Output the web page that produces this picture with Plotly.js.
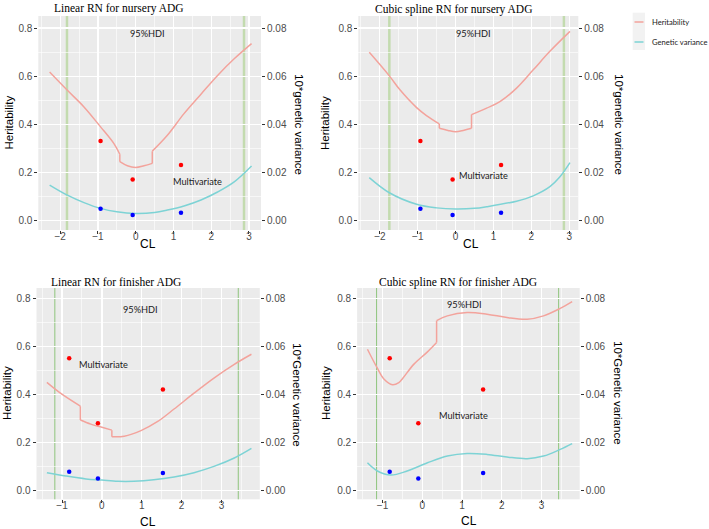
<!DOCTYPE html>
<html><head><meta charset="utf-8">
<script src="https://cdn.plot.ly/plotly-3.0.1.min.js"></script>
<style>html,body{margin:0;padding:0;background:#fff}#chart{width:709px;height:529px}</style>
</head><body><div id="chart"></div>
<script>
// ---------- DATA ----------
const panelTitles = ["Linear RN for nursery ADG", "Cubic spline RN for nursery ADG", "Linear RN for finisher ADG", "Cubic spline RN for finisher ADG"];
const rightTitles = ["10*genetic variance", "10*genetic variance", "10*Genetic variance", "10*Genetic variance"];
const legendLabels = ["Heritability", "Genetic variance"];

// Heritability curves (CL, h2); repeated CL values mark the vertical steps
const clH1 = [-2.28, -1.81, -1.37, -0.93, -0.58, -0.42, -0.42, -0.22, 0, 0.22, 0.44, 0.44, 0.84, 1.28, 1.73, 2.17, 2.61, 3.07];
const herit1 = [0.617, 0.541, 0.472, 0.389, 0.320, 0.275, 0.244, 0.227, 0.220, 0.227, 0.237, 0.288, 0.354, 0.444, 0.525, 0.603, 0.672, 0.735];
const clH2 = [-2.28, -1.75, -1.47, -1.03, -0.77, -0.43, -0.43, -0.2, 0, 0.2, 0.42, 0.42, 0.82, 1.17, 1.61, 2.05, 2.49, 3.02];
const herit2 = [0.699, 0.601, 0.543, 0.469, 0.436, 0.401, 0.383, 0.374, 0.369, 0.374, 0.383, 0.440, 0.467, 0.494, 0.550, 0.626, 0.703, 0.786];
const clH3 = [-1.38, -1.03, -0.54, -0.54, -0.28, 0, 0.25, 0.25, 0.56, 0.98, 1.39, 1.81, 2.31, 2.81, 3.32, 3.75];
const herit3 = [0.450, 0.404, 0.351, 0.293, 0.276, 0.263, 0.251, 0.224, 0.226, 0.249, 0.286, 0.339, 0.405, 0.468, 0.525, 0.567];
const clH4 = [-1.38, -1.13, -0.96, -0.75, -0.59, -0.49, -0.21, 0.13, 0.36, 0.36, 0.63, 1.13, 1.63, 2.13, 2.64, 3.05, 3.47, 3.77];
const herit4 = [0.588, 0.509, 0.463, 0.440, 0.449, 0.467, 0.526, 0.577, 0.616, 0.707, 0.727, 0.741, 0.734, 0.720, 0.713, 0.727, 0.758, 0.786];

// Genetic variance curves (CL, variance on right axis)
const clG1 = [-2.28, -1.81, -1.37, -0.93, -0.5, 0, 0.5, 0.84, 1.28, 1.73, 2.17, 2.61, 3.07];
const gvar1 = [0.0147, 0.0105, 0.0074, 0.0050, 0.0036, 0.0029, 0.0033, 0.0043, 0.0060, 0.0085, 0.0118, 0.0160, 0.0226];
const clG2 = [-2.28, -1.75, -1.03, -0.5, 0, 0.5, 0.82, 1.61, 2.05, 2.49, 2.75, 3.02];
const gvar2 = [0.0178, 0.0115, 0.0067, 0.0052, 0.0047, 0.0050, 0.0057, 0.0080, 0.0102, 0.0140, 0.0180, 0.0240];
const clG3 = [-1.38, -0.9, -0.4, 0, 0.4, 0.8, 1.3, 1.81, 2.31, 2.81, 3.32, 3.75];
const gvar3 = [0.0074, 0.0060, 0.0048, 0.0043, 0.0038, 0.0038, 0.0044, 0.0056, 0.0074, 0.0100, 0.0135, 0.0175];
const clG4 = [-1.38, -1.13, -0.79, -0.38, 0.13, 0.63, 1.13, 1.63, 2.13, 2.64, 3.05, 3.47, 3.77];
const gvar4 = [0.0115, 0.0081, 0.0064, 0.0081, 0.0115, 0.0143, 0.0154, 0.0150, 0.0139, 0.0132, 0.0143, 0.0171, 0.0195];

// Multivariate estimates (points)
const clPtsNursery = [-0.93, -0.08, 1.2];
const hPtsNursery = [0.33, 0.17, 0.23];
const gvPtsNursery = [0.0048, 0.0022, 0.0032];
const clPtsFinisher = [-0.82, -0.1, 1.53];
const hPtsFinisher = [0.55, 0.28, 0.42];
const gvPtsFinisher = [0.0078, 0.0050, 0.0073];

// 95% HDI bounds of CL (vertical lines)
const hdi1 = [-1.82, 2.87];
const hdi2 = [-1.75, 2.86];
const hdi3 = [-1.18, 3.42];
const hdi4 = [-1.15, 3.43];

// ---------- LAYOUT HELPERS ----------
const W = 709, H = 529;
const px = v => v / W;
const py = v => 1 - v / H;

const panels = [
  {clH: clH1, h: herit1, clG: clG1, g: gvar1, clP: clPtsNursery, hP: hPtsNursery, gP: gvPtsNursery, hdi: hdi1,
   xd: [38.3, 261], yd: [230, 16], xr: [-2.58, 3.32], yr: [-0.04, 0.85], hdiW: 2.5, hdiC: '#C3DBAF',
   title: [52, 8], lt: [8.5, 123], rt: [299, 124], cl: [148, 244], hdiTxt: [0.3, 0.776], mvTxt: [1.64, 0.16]},
  {clH: clH2, h: herit2, clG: clG2, g: gvar2, clP: clPtsNursery, hP: hPtsNursery, gP: gvPtsNursery, hdi: hdi2,
   xd: [358.3, 578.3], yd: [230, 16], xr: [-2.57, 3.24], yr: [-0.04, 0.85], hdiW: 2.5, hdiC: '#C3DBAF',
   title: [373, 9], lt: [325, 123], rt: [619, 124], cl: [470.7, 244], hdiTxt: [0.47, 0.776], mvTxt: [0.73, 0.186]},
  {clH: clH3, h: herit3, clG: clG3, g: gvar3, clP: clPtsFinisher, hP: hPtsFinisher, gP: gvPtsFinisher, hdi: hdi3,
   xd: [36.5, 259.8], yd: [499.3, 288], xr: [-1.64, 3.96], yr: [-0.037, 0.843], hdiW: 1, hdiC: '#8EC47C',
   title: [49, 282], lt: [7, 393], rt: [297, 395], cl: [148, 521.5], hdiTxt: [0.98, 0.754], mvTxt: [0.03, 0.524]},
  {clH: clH4, h: herit4, clG: clG4, g: gvar4, clP: clPtsFinisher, hP: hPtsFinisher, gP: gvPtsFinisher, hdi: hdi4,
   xd: [357.1, 579.7], yd: [499.3, 288], xr: [-1.64, 3.96], yr: [-0.037, 0.843], hdiW: 1, hdiC: '#8EC47C',
   title: [377, 282], lt: [326, 393], rt: [618, 393], cl: [469, 521], hdiTxt: [1.07, 0.773], mvTxt: [1.03, 0.314]}
];

const tickFont = {family: 'Liberation Sans, Arial, sans-serif', size: 10, color: '#4D4D4D'};
const titleFont = {family: 'Liberation Sans, Arial, sans-serif', size: 11.5, color: '#000'};
const serifFont = {family: 'Liberation Serif, Times New Roman, serif', size: 11.5, color: '#000'};
const noteFont = {family: 'Lato, Open Sans, sans-serif', size: 9.2, color: '#1A1A1A'};
const hColor = '#F3A39C', gColor = '#7DD3D5';

// split a curve into smooth pieces and vertical step pieces (at repeated CL values)
function pieces(xs, ys) {
  const out = [];
  let cur = {x: [xs[0]], y: [ys[0]]};
  for (let j = 1; j < xs.length; j++) {
    if (xs[j] === xs[j - 1]) {
      out.push({x: cur.x, y: cur.y, shape: 'spline'});
      out.push({x: [xs[j - 1], xs[j]], y: [ys[j - 1], ys[j]], shape: 'linear'});
      cur = {x: [xs[j]], y: [ys[j]]};
    } else {
      cur.x.push(xs[j]); cur.y.push(ys[j]);
    }
  }
  out.push({x: cur.x, y: cur.y, shape: 'spline'});
  return out;
}

const traces = [];
const layout = {
  width: W, height: H, margin: {l: 0, r: 0, t: 0, b: 0},
  paper_bgcolor: '#FFFFFF', plot_bgcolor: '#EBEBEB', showlegend: false,
  annotations: [], shapes: []
};

panels.forEach((p, k) => {
  const i = k + 1;
  const xid = i === 1 ? 'x' : 'x' + i;
  const yid = i === 1 ? 'y' : 'y' + i;
  const y2id = 'y' + (i + 4);
  const xkey = i === 1 ? 'xaxis' : 'xaxis' + i;
  const ykey = i === 1 ? 'yaxis' : 'yaxis' + i;
  const y2key = 'yaxis' + (i + 4);

  layout[xkey] = {
    domain: [px(p.xd[0]), px(p.xd[1])], anchor: yid, range: p.xr,
    tick0: 0, dtick: 1, ticks: 'outside', ticklen: 3, tickcolor: '#333333', tickwidth: 1,
    ticklabelstandoff: -6,
    showgrid: true, gridcolor: '#FFFFFF', gridwidth: 1.2, zeroline: false, showline: false,
    minor: {dtick: 0.5, showgrid: true, gridcolor: '#FFFFFF', gridwidth: 0.6, ticks: ''},
    tickfont: tickFont, fixedrange: true
  };
  layout[ykey] = {
    domain: [py(p.yd[0]), py(p.yd[1])], anchor: xid, range: p.yr,
    tick0: 0, dtick: 0.2, tickformat: '.1f', ticks: 'outside', ticklen: 3, tickcolor: '#333333', tickwidth: 1,
    showgrid: true, gridcolor: '#FFFFFF', gridwidth: 1.2, zeroline: false, showline: false,
    minor: {dtick: 0.1, showgrid: true, gridcolor: '#FFFFFF', gridwidth: 0.6, ticks: ''},
    tickfont: tickFont, fixedrange: true
  };
  layout[y2key] = {
    overlaying: yid, side: 'right', anchor: xid, range: [p.yr[0] / 10, p.yr[1] / 10],
    tick0: 0, dtick: 0.02, tickformat: '.2f', ticks: 'outside', ticklen: 3, tickcolor: '#333333', tickwidth: 1,
    showgrid: false, zeroline: false, showline: false, tickfont: tickFont, fixedrange: true
  };

  pieces(p.clH, p.h).forEach(s => traces.push({x: s.x, y: s.y, xaxis: xid, yaxis: yid, type: 'scatter', mode: 'lines',
    line: {color: hColor, width: 1.5, shape: s.shape, smoothing: 1}, name: legendLabels[0], hoverinfo: 'skip'}));
  traces.push({x: p.clP, y: p.hP, xaxis: xid, yaxis: yid, type: 'scatter', mode: 'markers',
    marker: {color: '#FF0000', size: 4.5}, hoverinfo: 'skip'});
  pieces(p.clG, p.g).forEach(s => traces.push({x: s.x, y: s.y, xaxis: xid, yaxis: y2id, type: 'scatter', mode: 'lines',
    line: {color: gColor, width: 1.5, shape: s.shape, smoothing: 1}, name: legendLabels[1], hoverinfo: 'skip'}));
  traces.push({x: p.clP, y: p.gP, xaxis: xid, yaxis: y2id, type: 'scatter', mode: 'markers',
    marker: {color: '#0000FF', size: 4.5}, hoverinfo: 'skip'});

  p.hdi.forEach(v => layout.shapes.push({type: 'line', xref: xid, yref: yid + ' domain',
    x0: v, x1: v, y0: 0, y1: 1, layer: 'below', line: {color: p.hdiC, width: p.hdiW}}));

  const A = layout.annotations;
  A.push({text: panelTitles[k], xref: 'paper', yref: 'paper', x: px(p.title[0]), y: py(p.title[1]),
    xanchor: 'left', yanchor: 'middle', showarrow: false, font: serifFont});
  A.push({text: 'Heritability', xref: 'paper', yref: 'paper', x: px(p.lt[0]), y: py(p.lt[1]),
    xanchor: 'center', yanchor: 'middle', textangle: -90, showarrow: false, font: titleFont});
  A.push({text: rightTitles[k], xref: 'paper', yref: 'paper', x: px(p.rt[0]), y: py(p.rt[1]),
    xanchor: 'center', yanchor: 'middle', textangle: 90, showarrow: false, font: titleFont});
  A.push({text: 'CL', xref: 'paper', yref: 'paper', x: px(p.cl[0]), y: py(p.cl[1]),
    xanchor: 'center', yanchor: 'middle', showarrow: false, font: {family: titleFont.family, size: 12, color: '#000'}});
  A.push({text: '95%HDI', xref: xid, yref: yid, x: p.hdiTxt[0], y: p.hdiTxt[1],
    xanchor: 'center', yanchor: 'middle', showarrow: false, font: noteFont});
  A.push({text: 'Multivariate', xref: xid, yref: yid, x: p.mvTxt[0], y: p.mvTxt[1],
    xanchor: 'center', yanchor: 'middle', showarrow: false, font: noteFont});
});

// Legend (ggplot style keys)
layout.shapes.push({type: 'rect', xref: 'paper', yref: 'paper', x0: px(632.7), x1: px(645), y0: py(50), y1: py(12.7),
  fillcolor: '#F2F2F2', line: {width: 0}, layer: 'below'});
[[22, hColor], [42, gColor]].forEach((d, j) => {
  layout.shapes.push({type: 'line', xref: 'paper', yref: 'paper', x0: px(634.5), x1: px(643.5), y0: py(d[0]), y1: py(d[0]),
    line: {color: d[1], width: 1.5}});
  layout.annotations.push({text: legendLabels[j], xref: 'paper', yref: 'paper', x: px(650), y: py(d[0]),
    xanchor: 'left', yanchor: 'middle', showarrow: false, font: {family: 'Lato, Open Sans, sans-serif', size: 7.6, color: '#1A1A1A'}});
});

Plotly.newPlot('chart', traces, layout, {displayModeBar: false, staticPlot: true});
</script>
</body></html>
